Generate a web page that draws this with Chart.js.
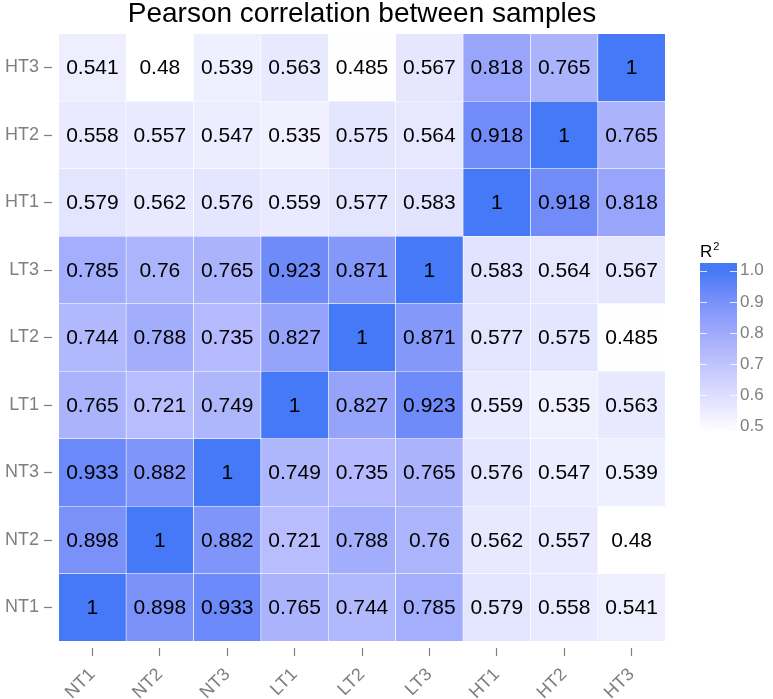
<!DOCTYPE html>
<html>
<head>
<meta charset="utf-8">
<script src="https://cdn.jsdelivr.net/npm/chart.js@4.4.1/dist/chart.umd.min.js"></script>
<style>
  html, body { margin: 0; padding: 0; background: #fff; }
  #wrap { position: relative; width: 773px; height: 699px; }
  #main { position: absolute; left: 0; top: 0; }
  #bar { position: absolute; left: 690px; top: 230px; }
</style>
</head>
<body>
<div id="wrap">
  <canvas id="main" width="773" height="699"></canvas>
  <canvas id="bar" width="83" height="220"></canvas>
</div>
<script>
const samples = ['NT1', 'NT2', 'NT3', 'LT1', 'LT2', 'LT3', 'HT1', 'HT2', 'HT3'];
// rows bottom (NT1) to top (HT3), columns NT1..HT3
const rowNT1 = [1, 0.898, 0.933, 0.765, 0.744, 0.785, 0.579, 0.558, 0.541];
const rowNT2 = [0.898, 1, 0.882, 0.721, 0.788, 0.76, 0.562, 0.557, 0.48];
const rowNT3 = [0.933, 0.882, 1, 0.749, 0.735, 0.765, 0.576, 0.547, 0.539];
const rowLT1 = [0.765, 0.721, 0.749, 1, 0.827, 0.923, 0.559, 0.535, 0.563];
const rowLT2 = [0.744, 0.788, 0.735, 0.827, 1, 0.871, 0.577, 0.575, 0.485];
const rowLT3 = [0.785, 0.76, 0.765, 0.923, 0.871, 1, 0.583, 0.564, 0.567];
const rowHT1 = [0.579, 0.562, 0.576, 0.559, 0.577, 0.583, 1, 0.918, 0.818];
const rowHT2 = [0.558, 0.557, 0.547, 0.535, 0.575, 0.564, 0.918, 1, 0.765];
const rowHT3 = [0.541, 0.48, 0.539, 0.563, 0.485, 0.567, 0.818, 0.765, 1];
const rows = [rowNT1, rowNT2, rowNT3, rowLT1, rowLT2, rowLT3, rowHT1, rowHT2, rowHT3];
const colorTicks = [0.5, 0.6, 0.7, 0.8, 0.9, 1.0];
const vMin = 0.48, vMax = 1;

// white -> blue, interpolated in Lab like ggplot
function toLab(r, g, b) {
  const f = c => { c /= 255; return c <= 0.04045 ? c / 12.92 : Math.pow((c + 0.055) / 1.055, 2.4); };
  const R = f(r), G = f(g), B = f(b);
  let x = (R * 0.4124 + G * 0.3576 + B * 0.1805) / 0.95047;
  let y = (R * 0.2126 + G * 0.7152 + B * 0.0722);
  let z = (R * 0.0193 + G * 0.1192 + B * 0.9505) / 1.08883;
  const h = t => t > 0.008856 ? Math.cbrt(t) : 7.787 * t + 16 / 116;
  x = h(x); y = h(y); z = h(z);
  return [116 * y - 16, 500 * (x - y), 200 * (y - z)];
}
function fromLab(L, a, bb) {
  let y = (L + 16) / 116, x = a / 500 + y, z = y - bb / 200;
  const h = t => t * t * t > 0.008856 ? t * t * t : (t - 16 / 116) / 7.787;
  x = h(x) * 0.95047; y = h(y); z = h(z) * 1.08883;
  let R = x * 3.2406 + y * -1.5372 + z * -0.4986;
  let G = x * -0.9689 + y * 1.8758 + z * 0.0415;
  let B = x * 0.0557 + y * -0.2040 + z * 1.0570;
  const g = c => { c = c > 0.0031308 ? 1.055 * Math.pow(c, 1 / 2.4) - 0.055 : 12.92 * c; return Math.round(Math.max(0, Math.min(1, c)) * 255); };
  return 'rgb(' + g(R) + ',' + g(G) + ',' + g(B) + ')';
}
const lowLab = toLab(255, 255, 255);
const highLab = toLab(70, 121, 247);
function fillColor(v) {
  const t = Math.max(0, Math.min(1, (v - vMin) / (vMax - vMin)));
  return fromLab(lowLab[0] + t * (highLab[0] - lowLab[0]), lowLab[1] + t * (highLab[1] - lowLab[1]), lowLab[2] + t * (highLab[2] - lowLab[2]));
}

const FONT = '"Liberation Sans", Arial, sans-serif';
const tickGray = '#7f7f7f';

const datasets = rows.map((row, i) => ({
  label: samples[i],
  data: row.map((v, j) => ({ x: j, y: 1 })),
  values: row,
  backgroundColor: row.map(fillColor),
  borderColor: 'rgba(255,255,255,0.9)',
  borderWidth: 0.6,
  borderSkipped: false,
  barPercentage: 1,
  categoryPercentage: 1
}));

const cellText = {
  id: 'cellText',
  afterDatasetsDraw(chart) {
    const ctx = chart.ctx;
    ctx.save();
    ctx.font = '21px ' + FONT;
    ctx.fillStyle = '#000';
    ctx.textAlign = 'center';
    ctx.textBaseline = 'middle';
    chart.data.datasets.forEach((ds, di) => {
      chart.getDatasetMeta(di).data.forEach((bar, j) => {
        const p = bar.getProps(['x', 'y', 'base'], true);
        ctx.fillText(String(ds.values[j]), p.x, (p.y + p.base) / 2 + 1);
      });
    });
    // title
    const a = chart.chartArea;
    ctx.font = '28px ' + FONT;
    ctx.textBaseline = 'alphabetic';
    ctx.fillText('Pearson correlation between samples', (a.left + a.right) / 2, 22);
    ctx.restore();
  }
};

new Chart(document.getElementById('main').getContext('2d'), {
  type: 'bar',
  data: { datasets: datasets },
  options: {
    responsive: false,
    animation: false,
    layout: { padding: { left: 0, right: 101, top: 27, bottom: 0 } },
    plugins: {
      legend: { display: false },
      tooltip: { enabled: false },
      title: { display: false }
    },
    scales: {
      x: {
        type: 'linear',
        stacked: true,
        offset: false,
        min: -0.6,
        max: 8.6,
        border: { display: false },
        grid: { offset: false, drawOnChartArea: false, drawTicks: true, tickLength: 8, color: tickGray, tickWidth: 1.2 },
        ticks: {
          color: tickGray,
          font: { family: FONT, size: 18 },
          minRotation: 45,
          maxRotation: 45,
          padding: 8,
          autoSkip: false,
          callback: v => samples[v]
        },
        afterBuildTicks(s) { s.ticks = samples.map((_, i) => ({ value: i })); },
        afterFit(s) { s.height = 51; }
      },
      y: {
        type: 'linear',
        stacked: true,
        min: -0.1,
        max: 9.1,
        border: { display: false },
        grid: { drawOnChartArea: false, drawTicks: true, tickLength: 8, color: tickGray, tickWidth: 1.2 },
        ticks: {
          color: tickGray,
          font: { family: FONT, size: 18 },
          padding: 5,
          callback: v => samples[Math.floor(v)]
        },
        afterBuildTicks(s) { s.ticks = samples.map((_, i) => ({ value: i + 0.5 })); },
        afterFit(s) { s.width = 52; }
      }
    }
  },
  plugins: [cellText]
});

// colour bar legend
const barCanvas = document.getElementById('bar');
const cbFill = {
  id: 'cbFill',
  beforeDatasetsDraw(chart) {
    const y = chart.scales.y;
    const g = chart.ctx.createLinearGradient(0, y.getPixelForValue(vMin), 0, y.getPixelForValue(vMax));
    for (let k = 0; k <= 10; k++) {
      const v = vMin + (vMax - vMin) * k / 10;
      g.addColorStop(k / 10, fillColor(v));
    }
    chart.getDatasetMeta(0).data[0].options.backgroundColor = g;
  },
  afterDatasetsDraw(chart) {
    const ctx = chart.ctx;
    const a = chart.chartArea;
    const y = chart.scales.y;
    ctx.save();
    ctx.strokeStyle = 'rgba(255,255,255,0.8)';
    ctx.lineWidth = 1;
    colorTicks.forEach(v => {
      const py = Math.round(y.getPixelForValue(v)) + 0.5;
      ctx.beginPath();
      ctx.moveTo(a.left, py); ctx.lineTo(a.left + 7, py);
      ctx.moveTo(a.right - 7, py); ctx.lineTo(a.right, py);
      ctx.stroke();
    });
    // legend title R²
    ctx.fillStyle = '#000';
    ctx.textBaseline = 'alphabetic';
    ctx.textAlign = 'left';
    ctx.font = '17px ' + FONT;
    ctx.fillText('R', a.left, 27);
    const w = ctx.measureText('R').width;
    ctx.font = '11px ' + FONT;
    ctx.fillText('2', a.left + w + 1, 20);
    ctx.restore();
  }
};
new Chart(barCanvas.getContext('2d'), {
  type: 'bar',
  data: { labels: ['R2'], datasets: [{ data: [[0.478, 1.025]], backgroundColor: '#4879f7', borderWidth: 0, barPercentage: 1, categoryPercentage: 1 }] },
  options: {
    responsive: false,
    animation: false,
    layout: { padding: { left: 10, right: 0, top: 33, bottom: 17 } },
    plugins: { legend: { display: false }, tooltip: { enabled: false } },
    scales: {
      x: { display: false },
      y: {
        position: 'right',
        min: 0.478,
        max: 1.025,
        border: { display: false },
        grid: { display: false, drawTicks: false },
        ticks: {
          color: tickGray,
          font: { family: FONT, size: 17 },
          padding: 3,
          callback: v => v.toFixed(1)
        },
        afterBuildTicks(s) { s.ticks = colorTicks.map(v => ({ value: v })); },
        afterFit(s) { s.width = 36; }
      }
    }
  },
  plugins: [cbFill]
});
</script>
</body>
</html>
